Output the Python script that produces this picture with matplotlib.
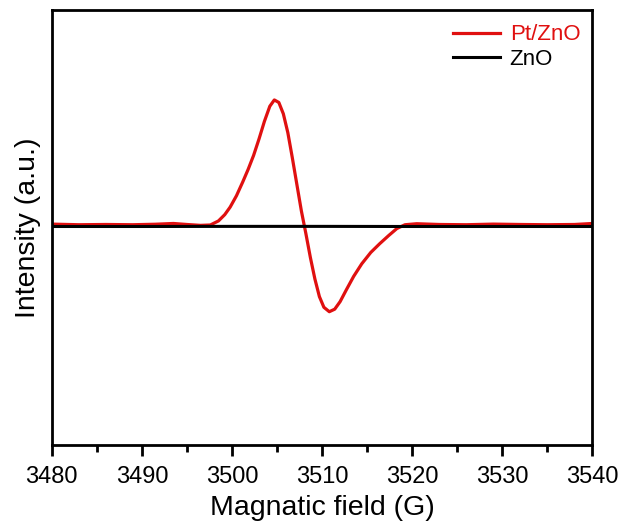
import numpy as np
import matplotlib.pyplot as plt
from matplotlib.ticker import MultipleLocator

plt.rcParams['font.family'] = ['Liberation Sans', 'DejaVu Sans']

# EPR signal of Pt/ZnO (field in G, intensity in a.u.)
field_ptzno = [3480.0, 3483.0, 3486.0, 3489.0, 3491.5, 3493.5, 3495.0, 3496.5,
               3497.6, 3498.5, 3499.2, 3499.8, 3500.5, 3501.2, 3501.8, 3502.4,
               3503.0, 3503.6, 3504.2, 3504.7, 3505.2, 3505.7, 3506.2, 3506.7,
               3507.2, 3507.7, 3508.2, 3508.7, 3509.2, 3509.7, 3510.2, 3510.8,
               3511.4, 3512.0, 3512.7, 3513.5, 3514.4, 3515.4, 3516.4, 3517.4,
               3518.3, 3519.2, 3520.5, 3523.0, 3526.0, 3529.0, 3532.0, 3535.0,
               3538.0, 3540.0]
int_ptzno = [0.015, 0.010, 0.012, 0.010, 0.014, 0.020, 0.012, 0.005,
             0.008, 0.040, 0.090, 0.150, 0.240, 0.350, 0.450, 0.560,
             0.690, 0.830, 0.950, 1.000, 0.980, 0.890, 0.740, 0.540,
             0.330, 0.120, -0.060, -0.250, -0.420, -0.560, -0.645, -0.680,
             -0.660, -0.600, -0.505, -0.400, -0.300, -0.210, -0.140, -0.075,
             -0.020, 0.010, 0.018, 0.012, 0.010, 0.015, 0.012, 0.010,
             0.012, 0.020]

# ZnO reference: flat baseline
field_zno = [3480.0, 3490.0, 3500.0, 3510.0, 3520.0, 3530.0, 3540.0]
int_zno = [-0.004, -0.004, -0.003, -0.003, -0.004, -0.004, -0.004]

fig, ax = plt.subplots(figsize=(6.23, 5.23), dpi=100)
fig.subplots_adjust(left=0.083, right=0.951, top=0.981, bottom=0.149)

ax.plot(field_ptzno, int_ptzno, color='#e01010', lw=2.3, label='Pt/ZnO', zorder=2)
ax.plot(field_zno, int_zno, color='black', lw=2.2, label='ZnO', zorder=3)

ax.set_xlim(3480, 3540)
ax.set_ylim(-1.738, 1.714)
ax.xaxis.set_major_locator(MultipleLocator(10))
ax.xaxis.set_minor_locator(MultipleLocator(5))
ax.tick_params(axis='x', which='major', length=8, width=2, labelsize=17, pad=7)
ax.tick_params(axis='x', which='minor', length=5, width=2)
ax.set_yticks([])
for s in ax.spines.values():
    s.set_linewidth(2)

ax.set_xlabel('Magnatic field (G)', fontsize=20.5, labelpad=5)
ax.set_ylabel('Intensity (a.u.)', fontsize=20.5, labelpad=8)

leg = ax.legend(loc='upper right', frameon=False, fontsize=16, handlelength=2.1,
                handletextpad=0.45, labelspacing=0.15, borderaxespad=0.15,
                bbox_to_anchor=(1.0, 0.995))
for txt, line in zip(leg.get_texts(), leg.get_lines()):
    txt.set_color(line.get_color())

fig.savefig('out.png', dpi=100)
